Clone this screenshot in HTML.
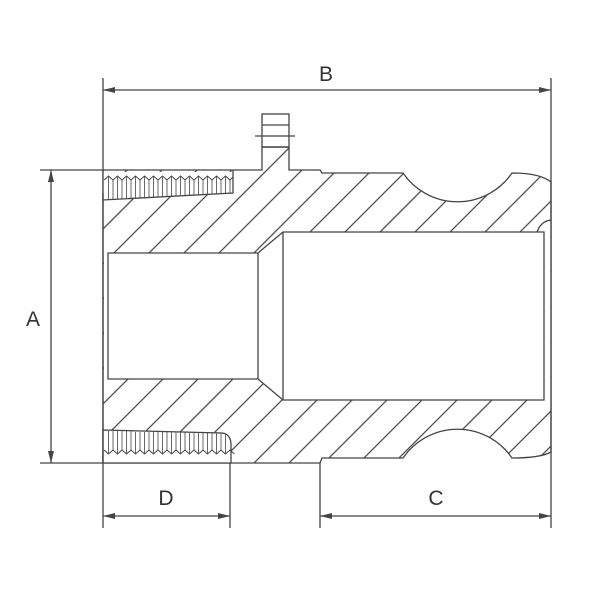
<!DOCTYPE html>
<html><head><style>body{margin:0;background:#fff}svg{display:block}</style></head><body>
<svg width="600" height="600" viewBox="0 0 600 600" xmlns="http://www.w3.org/2000/svg">
<defs>
<pattern id="h" patternUnits="userSpaceOnUse" width="24.75" height="24.75" patternTransform="rotate(45)">
<line x1="12" y1="-1" x2="12" y2="26" stroke="#444" stroke-width="1.2"/>
</pattern>
<marker id="ar" markerWidth="12" markerHeight="8" refX="12" refY="4" orient="auto-start-reverse" markerUnits="userSpaceOnUse">
<path d="M0,1 L12,4 L0,7 Z" fill="#444"/>
</marker>
</defs>
<g stroke="#444" stroke-width="1.3" fill="none">
<path d="M103,170 L262,170 L262,147 L289,147 L289,170 L320,170 L322,173 L403,173 A66,66 0 0 0 512,173 Q540,173 551,182 L551,452 Q540,458 512,458 A66,66 0 0 0 403,458 L322,458 L320,463 L103,463 Z" fill="url(#h)"/>
<rect x="104" y="240" width="4" height="150" fill="#fff" stroke="none"/>
<rect x="544" y="225" width="6.3" height="182" fill="#fff" stroke="none"/>
<rect x="262" y="114" width="27" height="33" fill="#fff"/>
<line x1="262" y1="125" x2="289" y2="125"/>
<line x1="255" y1="136" x2="295" y2="136"/>
<line x1="262" y1="147" x2="289" y2="147"/>
<path d="M108,253 L258,253 L283,232 L544,232 L544,400 L283,400 L258,379 L108,379 Z" fill="#fff"/>
<line x1="283" y1="232" x2="283" y2="400"/>
<line x1="258" y1="253" x2="258" y2="379"/>
<path d="M537,232 Q541,221 551,220"/>
<path d="M103,172 L233,172 L233,193 L103,200 Z" fill="#fff" stroke="none"/>
<path d="M103,193 L103,200 L233,193 L233,170"/>
<path d="M104,180 l4.5,-4 l4.5,4 l4.5,-4 l4.5,4 l4.5,-4 l4.5,4 l4.5,-4 l4.5,4 l4.5,-4 l4.5,4 l4.5,-4 l4.5,4 l4.5,-4 l4.5,4 l4.5,-4 l4.5,4 l4.5,-4 l4.5,4 l4.5,-4 l4.5,4 l4.5,-4 l4.5,4 l4.5,-4 l4.5,4 l4.5,-4 l4.5,4 l4.5,-4 l4.5,4 l3,-3" stroke-width="1"/>
<path d="M108.5,176 V199.5 M113,180 V199 M117.5,176 V199 M122,180 V199 M126.5,176 V198 M131,180 V198 M135.5,176 V198 M140,180 V198 M144.5,176 V197 M149,180 V197 M153.5,176 V197 M158,180 V197 M162.5,176 V196 M167,180 V196 M171.5,176 V196 M176,180 V196 M180.5,176 V195 M185,180 V195 M189.5,176 V195 M194,180 V195 M198.5,176 V195 M203,180 V194 M207.5,176 V194 M212,180 V194 M216.5,176 V194 M221,180 V193.5 M225.5,176 V193.5 M230,180 V193" stroke-width="0.8"/>
<path d="M103,430 L222,433 Q231,434 231,445 L231,463 L103,463 Z" fill="#fff"/>
<path d="M104,450 l4.5,4 l4.5,-4 l4.5,4 l4.5,-4 l4.5,4 l4.5,-4 l4.5,4 l4.5,-4 l4.5,4 l4.5,-4 l4.5,4 l4.5,-4 l4.5,4 l4.5,-4 l4.5,4 l4.5,-4 l4.5,4 l4.5,-4 l4.5,4 l4.5,-4 l4.5,4 l4.5,-4 l4.5,4 l4.5,-4 l4.5,4 l4.5,-4 l4.5,4 l4.5,-4 l4.5,4" stroke-width="1"/>
<path d="M108.5,431 V454 M113,431 V450 M117.5,431 V454 M122,431 V450 M126.5,431 V454 M131,431 V450 M135.5,432 V454 M140,432 V450 M144.5,432 V454 M149,432 V450 M153.5,432 V454 M158,432 V450 M162.5,432 V454 M167,432 V450 M171.5,432 V454 M176,432 V450 M180.5,432 V454 M185,432 V450 M189.5,433 V454 M194,433 V450 M198.5,433 V454 M203,433 V450 M207.5,433 V454 M212,433 V450 M216.5,433 V454 M221,433 V450 M225.5,434 V454" stroke-width="0.8"/>
<line x1="103" y1="78" x2="103" y2="528"/>
<line x1="551" y1="78" x2="551" y2="528"/>
<line x1="40" y1="170" x2="103" y2="170"/>
<line x1="40" y1="463" x2="103" y2="463"/>
<line x1="230" y1="463" x2="230" y2="528"/>
<line x1="320" y1="463" x2="320" y2="528"/>
<line x1="103" y1="90" x2="551" y2="90" marker-start="url(#ar)" marker-end="url(#ar)"/>
<line x1="51" y1="170" x2="51" y2="463" marker-start="url(#ar)" marker-end="url(#ar)"/>
<line x1="103" y1="516" x2="230" y2="516" marker-start="url(#ar)" marker-end="url(#ar)"/>
<line x1="320" y1="516" x2="551" y2="516" marker-start="url(#ar)" marker-end="url(#ar)"/>
</g>
<g font-family="Liberation Sans, sans-serif" font-size="21" fill="#333" text-anchor="middle">
<text x="326" y="81">B</text>
<text x="33" y="326">A</text>
<text x="166" y="505">D</text>
<text x="436" y="505">C</text>
</g>
</svg>
</body></html>
